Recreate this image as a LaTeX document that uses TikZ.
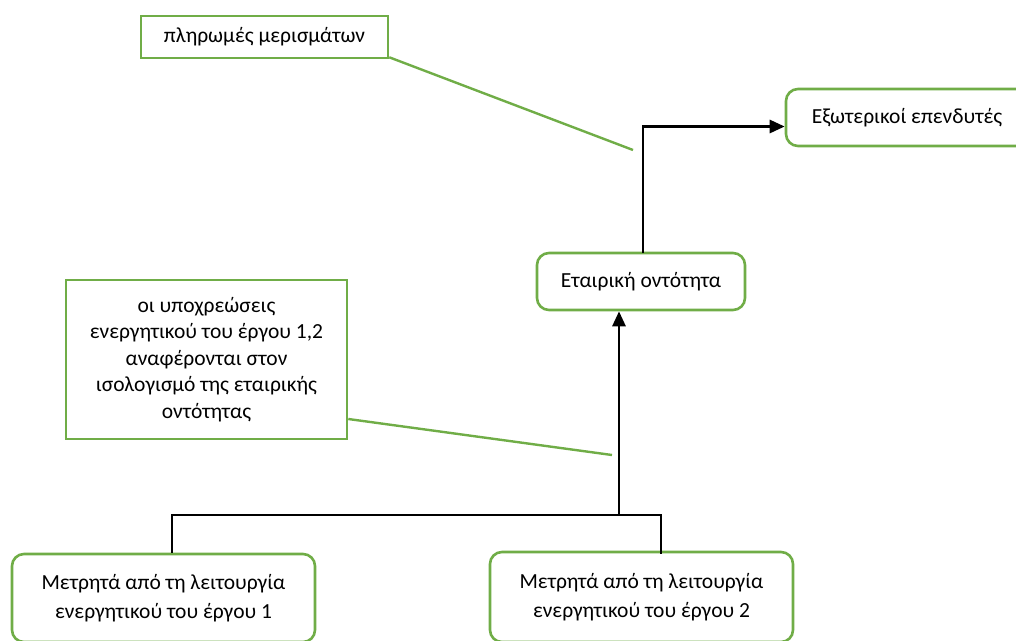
\documentclass[tikz,border=0pt]{standalone}
\usepackage{fontspec}
\setmainfont{Carlito}
\usetikzlibrary{arrows.meta}
\definecolor{boxgreen}{HTML}{70AD47}
\tikzset{
  box/.style={draw=boxgreen, line width=2.6pt, fill=white, inner sep=0pt,
    align=center, font=\fontsize{21.5}{26.5}\selectfont, text=black},
  roundbox/.style={box, rounded corners=12pt},
  widelines/.style={font=\fontsize{21.5}{29}\selectfont},
  link/.style={draw=black, line width=2.8pt},
  linkarrow/.style={link, -{Triangle[length=15pt,width=13pt]}},
  callout/.style={draw=boxgreen, line width=2.4pt}
}
\begin{document}
\begin{tikzpicture}[x=1pt,y=-1pt]
\useasboundingbox (0,0) rectangle (1016,640);
\clip (0,0) rectangle (1016,640);

% boxes
\node[box, minimum width=247pt, minimum height=42pt] (pay) at (264.5,37) {πληρωμές μερισμάτων};
\node[roundbox, minimum width=242pt, minimum height=57pt] (inv) at (907,117.5) {Εξωτερικοί επενδυτές};
\node[roundbox, minimum width=208pt, minimum height=57pt] (corp) at (641,281.5) {Εταιρική οντότητα};
\node[box, minimum width=281pt, minimum height=159pt] (note) at (206.5,359.5)
  {οι υποχρεώσεις\\ενεργητικού του έργου 1,2\\αναφέρονται στον\\ισολογισμό της εταιρικής\\οντότητας};
\node[roundbox, widelines, minimum width=303pt, minimum height=88pt] (op1) at (163.5,598)
  {Μετρητά από τη λειτουργία\\ενεργητικού του έργου 1};
\node[roundbox, widelines, minimum width=303pt, minimum height=90pt] (op2) at (641.5,597)
  {Μετρητά από τη λειτουργία\\ενεργητικού του έργου 2};

% junction points of the connectors
\coordinate (hub) at (619,515);
\coordinate (hl) at (172,515);
\coordinate (hr) at (661,515);
\coordinate (up) at (643,253);
\coordinate (c1) at (633,150);
\coordinate (c2) at (612,455);

% cash flows
\draw[link] (hl |- op1.north) -- (hl) -- (hr) -- ([yshift=-3pt]hr |- op2.north);
\draw[linkarrow] (hub) -- (hub |- corp.south);
\draw[linkarrow] (up) |- ([yshift=-9pt]inv.west);

% callout lines
\draw[callout] ([yshift=2pt]pay.south east) -- (c1);
\draw[callout] ([yshift=-59.5pt]note.east) -- (c2);
\end{tikzpicture}
\end{document}
